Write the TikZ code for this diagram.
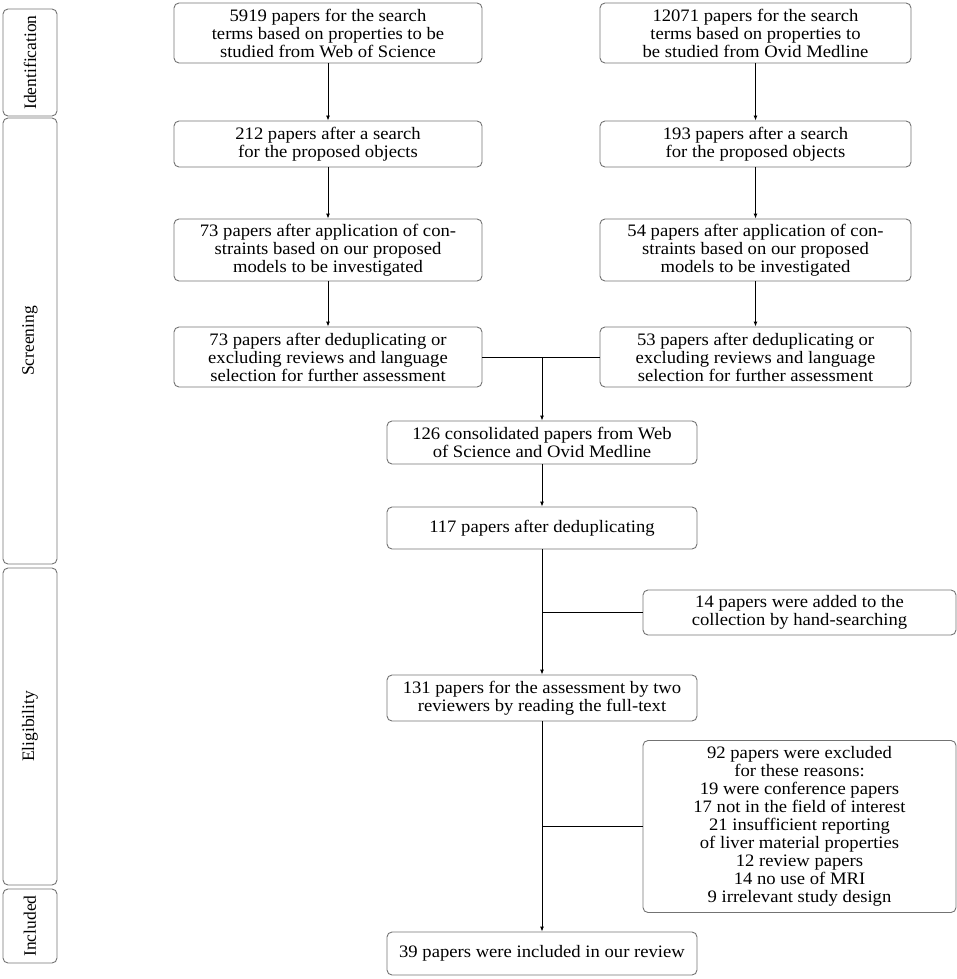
\documentclass[tikz,border=0pt]{standalone}
\usepackage{fontspec}
\setmainfont{Liberation Serif}
\newfontfamily\boxfont[FakeStretch=1.065]{Liberation Serif}
\usetikzlibrary{arrows.meta}
\definecolor{boxgray}{gray}{0.45}
\begin{document}
\begin{tikzpicture}[x=1pt,y=-1pt,
  flowbox/.style={draw=boxgray, line width=0.9pt, rounded corners=5pt, align=center, inner sep=0pt,
    font=\boxfont\fontsize{17.5}{18}\selectfont},
  stagebox/.style={draw=boxgray, line width=0.9pt, rounded corners=5pt, rotate=90, inner sep=0pt, minimum height=54pt,
    font=\fontsize{17.5}{18}\selectfont},
  conn/.style={line width=0.9pt, black},
  arr/.style={conn, -{Latex[length=5pt,width=4pt]}}]
\useasboundingbox (0,0) rectangle (957,979);

% stage labels
\node[stagebox, minimum width=107pt] (id) at (30,62.5) {Identification};
\node[stagebox, minimum width=446pt] (scr) at (30,341) {Screening};
\node[stagebox, minimum width=317pt] (elig) at (30,726.5) {Eligibility};
\node[stagebox, minimum width=74pt] (incl) at (30,926) {Included};

% left column
\node[flowbox, minimum width=308pt, minimum height=60pt] (a1) at (328,33) {5919 papers for the search\\terms based on properties to be\\studied from Web of Science};
\node[flowbox, minimum width=308pt, minimum height=46pt] (a2) at (328,144) {212 papers after a search\\for the proposed objects};
\node[flowbox, minimum width=308pt, minimum height=62pt] (a3) at (328,250) {73 papers after application of con-\\straints based on our proposed\\models to be investigated};
\node[flowbox, minimum width=308pt, minimum height=60pt] (a4) at (328,357) {73 papers after deduplicating or\\excluding reviews and language\\selection for further assessment};

% right column
\node[flowbox, minimum width=311pt, minimum height=60pt] (b1) at (755.5,33) {12071 papers for the search\\terms based on properties to\\be studied from Ovid Medline};
\node[flowbox, minimum width=311pt, minimum height=46pt] (b2) at (755.5,144) {193 papers after a search\\for the proposed objects};
\node[flowbox, minimum width=311pt, minimum height=62pt] (b3) at (755.5,250) {54 papers after application of con-\\straints based on our proposed\\models to be investigated};
\node[flowbox, minimum width=311pt, minimum height=60pt] (b4) at (755.5,357) {53 papers after deduplicating or\\excluding reviews and language\\selection for further assessment};

% centre column
\node[flowbox, minimum width=310pt, minimum height=43pt] (c1) at (542,442.5) {126 consolidated papers from Web\\of Science and Ovid Medline};
\node[flowbox, minimum width=310pt, minimum height=42pt] (c2) at (542,528) {117 papers after deduplicating};
\node[flowbox, minimum width=310pt, minimum height=46pt] (c3) at (542,698) {131 papers for the assessment by two\\reviewers by reading the full-text};
\node[flowbox, minimum width=310pt, minimum height=43pt] (c4) at (542,953.5) {39 papers were included in our review};

% side boxes
\node[flowbox, minimum width=313pt, minimum height=45pt] (s1) at (799.5,612.5) {14 papers were added to the\\collection by hand-searching};
\node[flowbox, minimum width=313pt, minimum height=172pt] (s2) at (799.5,826.5) {92 papers were excluded\\for these reasons:\\19 were conference papers\\17 not in the field of interest\\21 insufficient reporting\\of liver material properties\\12 review papers\\14 no use of MRI\\9 irrelevant study design};

% connectors
\draw[arr] (a1) -- (a2);
\draw[arr] (a2) -- (a3);
\draw[arr] (a3) -- (a4);
\draw[arr] (b1) -- (b2);
\draw[arr] (b2) -- (b3);
\draw[arr] (b3) -- (b4);
\draw[conn] (a4.east) -- (b4.west);
\coordinate (j1) at (a4.east -| c1.north);
\draw[arr] (j1) -- (c1.north);
\draw[arr] (c1) -- (c2);
\draw[arr] (c2) -- (c3);
\draw[arr] (c3) -- (c4);
\draw[conn] (s1.west) -- (s1.west -| c2.south);
\draw[conn] (s2.west) -- (s2.west -| c3.south);
\end{tikzpicture}
\end{document}
